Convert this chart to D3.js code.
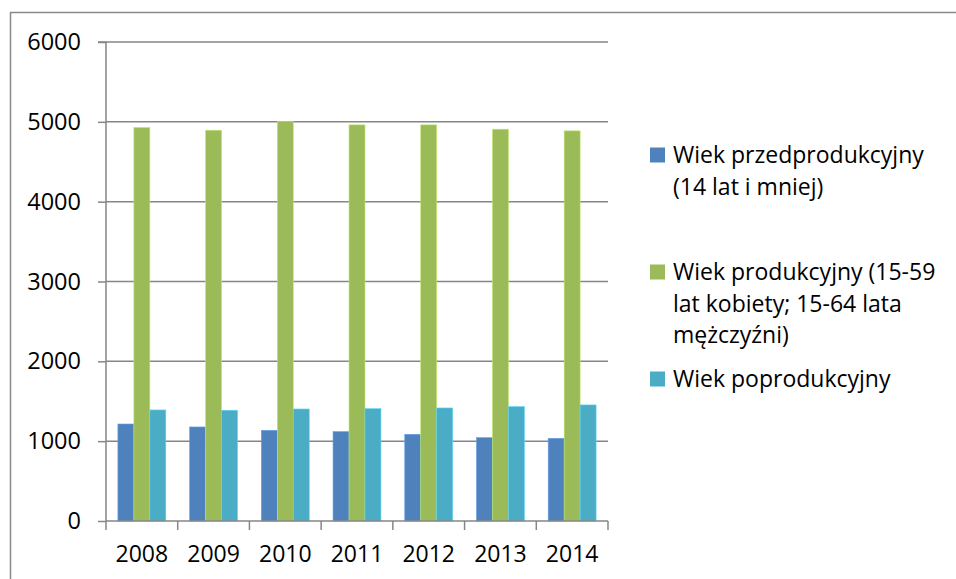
<!DOCTYPE html>
<html>
<head>
<meta charset="utf-8">
<script src="https://cdn.jsdelivr.net/npm/d3@7"></script>
<style>
  html, body { margin: 0; padding: 0; background: #fff; }
  svg { display: block; }
  text { font-family: "Open Sans", "Noto Sans", sans-serif; fill: #000; }
</style>
</head>
<body>
<svg id="chart" width="956" height="579"></svg>
<script>
const years = ["2008", "2009", "2010", "2011", "2012", "2013", "2014"];
const seriesNames = [
  ["Wiek przedprodukcyjny", "(14 lat i mniej)"],
  ["Wiek produkcyjny (15-59", "lat kobiety; 15-64 lata", "mężczyźni)"],
  ["Wiek poprodukcyjny"]
];
const preProductive = [1215, 1178, 1136, 1119, 1086, 1044, 1036];
const productive = [4929, 4895, 5004, 4962, 4962, 4908, 4887];
const postProductive = [1391, 1387, 1403, 1407, 1416, 1432, 1454];
const yTicks = [0, 1000, 2000, 3000, 4000, 5000, 6000];
const colors = ["#4F81BD", "#9BBB59", "#4BACC6"];

const series = [preProductive, productive, postProductive];

const svg = d3.select("#chart");
const W = 956, H = 579;

// outer border
svg.append("rect")
  .attr("x", 10.5).attr("y", 12.5)
  .attr("width", W + 10).attr("height", H + 10)
  .attr("fill", "none").attr("stroke", "#898989").attr("stroke-width", 1.5);

const plot = { left: 106, right: 608, top: 42, bottom: 521 };

const x = d3.scaleBand().domain(years).range([plot.left, plot.right]).paddingInner(0).paddingOuter(0);
const y = d3.scaleLinear().domain([0, 6000]).range([plot.bottom, plot.top]);

const groupW = x.bandwidth() * 0.668;
const off = (x.bandwidth() - groupW) / 2;
const sub = d3.scaleBand().domain(d3.range(series.length)).range([off, off + groupW]);

// gridlines
const g = svg.append("g");
g.selectAll("line.grid").data(yTicks.filter(d => d > 0)).join("line")
  .attr("x1", plot.left).attr("x2", plot.right)
  .attr("y1", d => y(d)).attr("y2", d => y(d))
  .attr("stroke", "#868686").attr("stroke-width", 1.5);

// bars
series.forEach((vals, si) => {
  g.selectAll("rect.s" + si).data(vals).join("rect")
    .attr("x", (d, i) => x(years[i]) + sub(si))
    .attr("y", d => y(d))
    .attr("width", sub.bandwidth())
    .attr("height", d => plot.bottom - y(d))
    .attr("fill", colors[si])
    .attr("stroke", d3.color(colors[si]).brighter(0.6))
    .attr("stroke-width", 0.6);
});

// y axis
const yAxis = d3.axisLeft(y).tickValues(yTicks).tickSize(8).tickPadding(17).tickFormat(d3.format("d"));
const ya = svg.append("g").attr("transform", `translate(${plot.left},0)`).call(yAxis);
ya.select(".domain").attr("stroke", "#868686").attr("stroke-width", 1.5).attr("d", `M-8,${plot.top}H0V${plot.bottom}`);
ya.selectAll(".tick line").attr("stroke", "#868686").attr("stroke-width", 1.5);
ya.selectAll(".tick text").attr("font-size", 23.5).attr("font-family", "Open Sans").attr("fill", "#000");

// x axis
const xAxis = d3.axisBottom(x).tickSize(0).tickPadding(25);
const xa = svg.append("g").attr("transform", `translate(0,${plot.bottom})`).call(xAxis);
xa.select(".domain").attr("stroke", "#868686").attr("stroke-width", 1.5).attr("d", `M${plot.left},0H${plot.right}`);
xa.selectAll(".tick text").attr("font-size", 23).attr("font-family", "Open Sans").attr("fill", "#000");
// category boundary ticks
const bounds = years.map(d => x(d)).concat([plot.right]);
xa.selectAll("line.bt").data(bounds).join("line")
  .attr("x1", d => d).attr("x2", d => d).attr("y1", 0).attr("y2", 9)
  .attr("stroke", "#868686").attr("stroke-width", 1.5);

// legend
const legendY = [155, 272, 379];
const lineH = 31.5;
const lg = svg.append("g");
seriesNames.forEach((lines, i) => {
  const cy = legendY[i];
  lg.append("rect").attr("x", 650).attr("y", cy - 7.5).attr("width", 15).attr("height", 15).attr("fill", colors[i]);
  lines.forEach((t, j) => {
    lg.append("text").attr("x", 673).attr("y", cy + j * lineH)
      .attr("dy", "0.35em").attr("font-size", 23).text(t);
  });
});
</script>
</body>
</html>
